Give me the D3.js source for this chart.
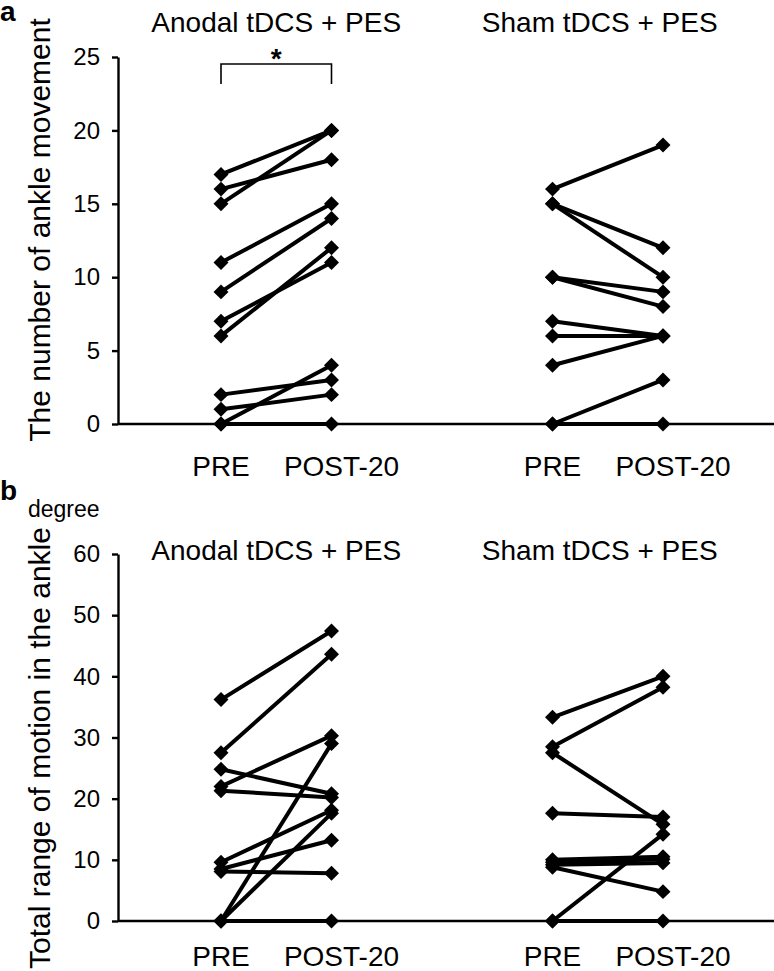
<!DOCTYPE html>
<html>
<head>
<meta charset="utf-8">
<script src="https://cdn.jsdelivr.net/npm/d3@7"></script>
<style>
  html, body { margin: 0; padding: 0; background: #fff; }
  svg { display: block; font-family: "Liberation Sans", Arial, sans-serif; }
</style>
</head>
<body>
<svg id="chart" width="774" height="971"></svg>
<script>
// ---------- data ----------
const timepoints = ["PRE", "POST-20"];
const groups = ["Anodal tDCS + PES", "Sham tDCS + PES"];

// Panel a: number of ankle movements (PRE, POST-20 per subject)
const anodalMovePre  = [17, 16, 15, 11, 9, 7, 6, 2, 1, 0, 0];
const anodalMovePost = [20, 18, 20, 15, 14, 11, 12, 3, 2, 4, 0];
const shamMovePre    = [16, 15, 15, 10, 10, 7, 6, 4, 0, 0];
const shamMovePost   = [19, 12, 10, 9, 8, 6, 6, 6, 3, 0];

// Panel b: total range of motion (degree)
const anodalRomPre   = [36.2, 27.5, 24.8, 22.0, 21.3, 9.6, 8.5, 8.1, 0, 0, 0];
const anodalRomPost  = [47.4, 43.6, 20.8, 30.3, 20.2, 18.1, 13.2, 7.8, 29.0, 17.6, 0];
const shamRomPre     = [33.3, 28.5, 27.5, 17.6, 10.0, 9.6, 9.2, 8.8, 0, 0];
const shamRomPost    = [40.0, 38.2, 15.8, 17.0, 10.5, 10.1, 9.5, 4.8, 14.2, 0];

const moveTicks = [0, 5, 10, 15, 20, 25];
const romTicks  = [0, 10, 20, 30, 40, 50, 60];

// ---------- layout ----------
const svg = d3.select("#chart");
const font = "'Liberation Sans', Arial, sans-serif";
const axisX = 118;
// slot positions: anodal PRE=0, POST=1; sham PRE=3, POST=4
const x = d3.scaleLinear().domain([0, 4]).range([221, 663]);
const groupSlots = [[0, 1], [3, 4]];

function panel(cfg) {
  const y = d3.scaleLinear().domain(cfg.domain).range([cfg.bottom, cfg.top]);
  const g = svg.append("g");

  // y axis
  const yAxis = d3.axisLeft(y).tickValues(cfg.ticks).tickSize(6).tickPadding(12).tickSizeOuter(0);
  const ga = g.append("g").attr("transform", `translate(${axisX},0)`).call(yAxis);
  ga.select(".domain").attr("stroke", "#000").attr("stroke-width", 2.4);
  ga.selectAll(".tick line").attr("stroke", "#000").attr("stroke-width", 2.4);
  ga.selectAll(".tick text").attr("font-size", 24).attr("font-family", font).attr("fill", "#000");

  // baseline
  g.append("line")
    .attr("x1", axisX).attr("x2", 774)
    .attr("y1", y(0)).attr("y2", y(0))
    .attr("stroke", "#000").attr("stroke-width", 2.4);

  // x labels
  groupSlots.forEach(slots => {
    slots.forEach((s, i) => {
      g.append("text")
        .attr("x", x(s) + (i === 1 ? 10 : 0)).attr("y", cfg.xLabelY)
        .attr("text-anchor", "middle")
        .attr("font-size", 28).attr("font-family", font)
        .text(timepoints[i]);
    });
  });

  // group titles
  groups.forEach((name, gi) => {
    g.append("text")
      .attr("x", (x(groupSlots[gi][0]) + x(groupSlots[gi][1])) / 2 + (gi === 0 ? 0 : -8))
      .attr("y", cfg.titleY)
      .attr("text-anchor", "middle")
      .attr("font-size", 28).attr("font-family", font)
      .text(name);
  });

  // y title
  g.append("text")
    .attr("transform", `translate(${cfg.yTitleX},${cfg.yTitleY}) rotate(-90)`)
    .attr("text-anchor", "middle")
    .attr("font-size", 30).attr("font-family", font)
    .text(cfg.yTitle);

  // panel letter
  g.append("text")
    .attr("x", 0).attr("y", cfg.letterY)
    .attr("font-size", 28).attr("font-weight", "bold").attr("font-family", font)
    .text(cfg.letter);

  // lines + markers
  const diamond = d3.symbol().type(d3.symbolSquare).size(112);
  cfg.series.forEach((ser, gi) => {
    const [s0, s1] = groupSlots[gi];
    const pairs = ser.pre.map((v, i) => [v, ser.post[i]]);
    g.append("g").selectAll("line").data(pairs).join("line")
      .attr("x1", x(s0)).attr("x2", x(s1))
      .attr("y1", d => y(d[0])).attr("y2", d => y(d[1]))
      .attr("stroke", "#000").attr("stroke-width", 4);
    const pts = [];
    pairs.forEach(p => { pts.push([s0, p[0]]); pts.push([s1, p[1]]); });
    g.append("g").selectAll("path").data(pts).join("path")
      .attr("d", diamond)
      .attr("transform", d => `translate(${x(d[0])},${y(d[1])}) rotate(45)`)
      .attr("fill", "#000");
  });
  return { g, y };
}

const pa = panel({
  domain: [0, 25], top: 57, bottom: 424, ticks: moveTicks,
  xLabelY: 476, titleY: 32, yTitleX: 50, yTitleY: 230,
  yTitle: "The number of ankle movement", letter: "a", letterY: 21,
  series: [{ pre: anodalMovePre, post: anodalMovePost }, { pre: shamMovePre, post: shamMovePost }]
});

const pb = panel({
  domain: [0, 60], top: 554, bottom: 921, ticks: romTicks,
  xLabelY: 966, titleY: 560, yTitleX: 50, yTitleY: 748,
  yTitle: "Total range of motion in the ankle", letter: "b", letterY: 500,
  series: [{ pre: anodalRomPre, post: anodalRomPost }, { pre: shamRomPre, post: shamRomPost }]
});

// "degree" unit label
svg.append("text")
  .attr("x", 28).attr("y", 517)
  .attr("font-size", 23).attr("font-family", font)
  .text("degree");

// significance bracket (panel a, anodal)
const bx0 = x(0), bx1 = x(1), by = 64, byLeg = 84;
svg.append("path")
  .attr("d", `M${bx0},${byLeg} V${by} H${bx1} V${byLeg}`)
  .attr("fill", "none").attr("stroke", "#000").attr("stroke-width", 1.6);
svg.append("text")
  .attr("x", (bx0 + bx1) / 2).attr("y", 68)
  .attr("text-anchor", "middle")
  .attr("font-size", 28).attr("font-weight", "bold").attr("font-family", font)
  .text("*");
</script>
</body>
</html>
